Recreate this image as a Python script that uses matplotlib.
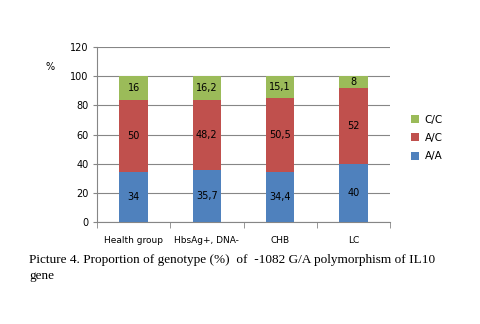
import numpy as np
import matplotlib
matplotlib.use("Agg")
from matplotlib import pyplot as plt

groups = ["Health group", "HbsAg+, DNA-", "CHB", "LC"]
aa = [34, 35.7, 34.4, 40]
ac = [50, 48.2, 50.5, 52]
cc = [16, 16.2, 15.1, 8]
aa_txt = ["34", "35,7", "34,4", "40"]
ac_txt = ["50", "48,2", "50,5", "52"]
cc_txt = ["16", "16,2", "15,1", "8"]

blue, red, green = "#4F81BD", "#C0504D", "#9BBB59"
grid_col = "#868686"

fig = plt.figure(figsize=(4.8, 3.24), dpi=100)
ax = fig.add_axes([97/480, 1-222/324, 293/480, 175/324])

x = np.arange(len(groups))
w = 0.39
b1 = ax.bar(x, aa, w, color=blue, label="A/A", zorder=3)
b2 = ax.bar(x, ac, w, bottom=aa, color=red, label="A/C", zorder=3)
bot = np.array(aa) + np.array(ac)
b3 = ax.bar(x, cc, w, bottom=bot, color=green, label="C/C", zorder=3)

for bars, txts in [(b1, aa_txt), (b2, ac_txt), (b3, cc_txt)]:
    ax.bar_label(bars, labels=txts, label_type="center", fontsize=7, color="black")

ax.set_xlim(-0.5, 3.5)
ax.set_ylim(0, 120)
ax.set_yticks(range(0, 121, 20))
ax.yaxis.grid(True, color=grid_col, linewidth=0.8, zorder=0)
ax.set_xticks(x)
ax.set_xticklabels(groups, fontsize=6.5)
ax.set_xticks(np.arange(-0.5, 4, 1), minor=True)
ax.tick_params(axis="x", which="major", length=0, pad=10)
ax.tick_params(axis="x", which="minor", length=4, color=grid_col, direction="out")
ax.tick_params(axis="y", length=3, color=grid_col, labelsize=7, pad=3)
for s in ["top", "right"]:
    ax.spines[s].set_visible(False)
for s in ["left", "bottom"]:
    ax.spines[s].set_color(grid_col)

fig.text(46/480, 1-67/324, "%", fontsize=7, ha="left", va="center")

h, l = ax.get_legend_handles_labels()
ax.legend(h[::-1], l[::-1], loc="center left", bbox_to_anchor=(1.04, 0.48),
          frameon=False, fontsize=7.5, handlelength=0.8, handleheight=0.8,
          handletextpad=0.5, labelspacing=0.8)

fig.text(29/480, 1-260/324, "Picture 4. Proportion of genotype (%)  of  -1082 G/A polymorphism of IL10",
         fontsize=9.5, family="Liberation Serif", va="center")
fig.text(29/480, 1-276/324, "gene", fontsize=9.5, family="Liberation Serif", va="center")

fig.savefig("out.png", dpi=100)
